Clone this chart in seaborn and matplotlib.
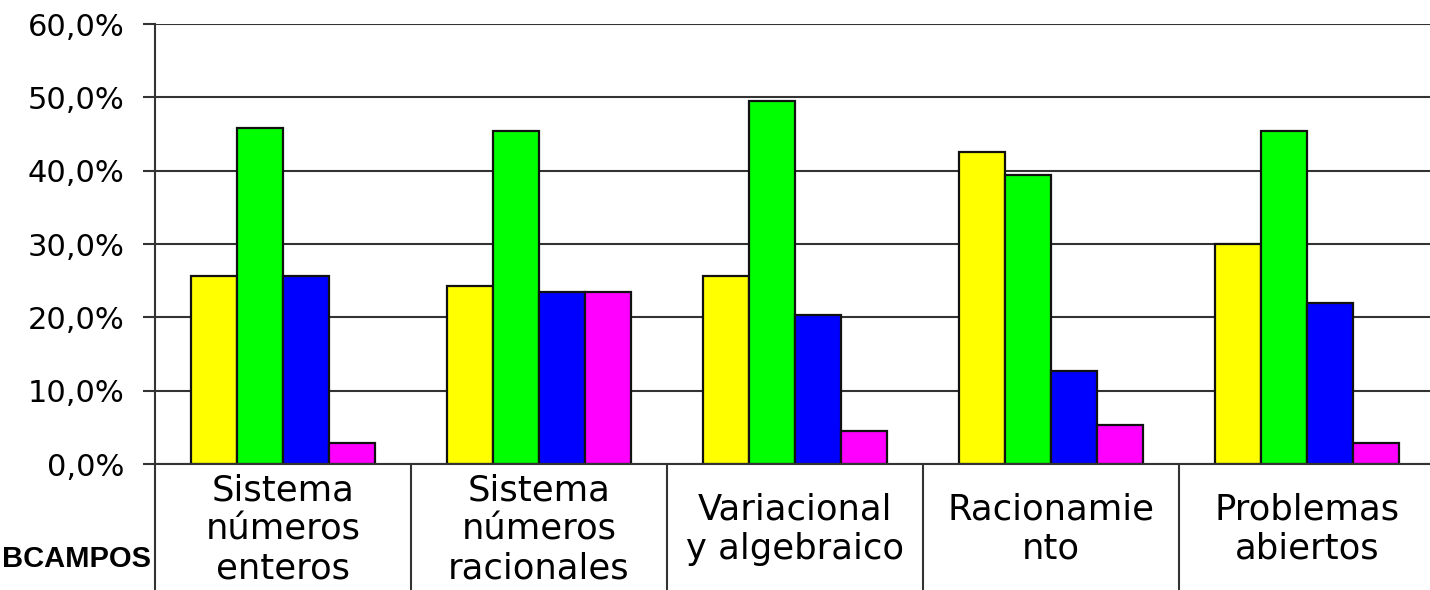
import pandas as pd
import matplotlib
matplotlib.use('Agg')
import matplotlib.pyplot as plt
import seaborn as sns
from matplotlib.ticker import FuncFormatter, FixedLocator

# Chart data
subcampos = ['Sistema\nnúmeros\nenteros', 'Sistema\nnúmeros\nracionales',
             'Variacional\ny algebraico', 'Racionamie\nnto', 'Problemas\nabiertos']
serie_1 = [0.256, 0.243, 0.256, 0.425, 0.300]
serie_2 = [0.458, 0.454, 0.495, 0.394, 0.454]
serie_3 = [0.256, 0.234, 0.203, 0.127, 0.219]
serie_4 = [0.028, 0.234, 0.045, 0.053, 0.028]
series = ['Serie 1', 'Serie 2', 'Serie 3', 'Serie 4']
colores = ['#FFFF00', '#00FF00', '#0000FF', '#FF00FF']

rows = []
for name, vals in zip(series, [serie_1, serie_2, serie_3, serie_4]):
    for cat, v in zip(subcampos, vals):
        rows.append({'Subcampo': cat, 'Serie': name, 'Porcentaje': v})
df = pd.DataFrame(rows)

sns.set_style('white')
plt.rcParams['font.family'] = ['DejaVu Sans']
plt.rcParams['text.color'] = 'black'
plt.rcParams['xtick.color'] = 'black'
plt.rcParams['ytick.color'] = 'black'

W, H = 1430, 590
fig = plt.figure(figsize=(W / 100, H / 100), dpi=100)
# plot area runs a little past the right edge, like the original
ax = fig.add_axes([155 / W, 126 / H, 1280 / W, 440 / H])

sns.barplot(data=df, x='Subcampo', y='Porcentaje', hue='Serie',
            palette=colores, saturation=1, width=0.72, edgecolor='#111111',
            linewidth=1.6, legend=False, ax=ax)

ax.set_xlim(-0.5, 4.5)
ax.set_ylim(0, 0.6)
ax.set_yticks([0, 0.1, 0.2, 0.3, 0.4, 0.5, 0.6])
ax.yaxis.set_major_formatter(FuncFormatter(lambda v, p: f"{v * 100:.1f}%".replace('.', ',')))
ax.yaxis.grid(True, color='#333333', linewidth=1.5)
ax.set_axisbelow(True)
ax.set_xlabel('')
ax.set_ylabel('')

for side in ['top', 'right']:
    ax.spines[side].set_visible(False)
for side in ['left', 'bottom']:
    ax.spines[side].set_color('#333333')
    ax.spines[side].set_linewidth(1.5)

ax.tick_params(axis='y', which='major', direction='out', length=9, width=1.5,
               color='#333333', labelcolor='black', labelsize=22, pad=13, left=True)
# category separators hanging below the axis
ax.xaxis.set_minor_locator(FixedLocator([-0.5, 0.5, 1.5, 2.5, 3.5, 4.5]))
ax.tick_params(axis='x', which='minor', direction='out', length=92, width=1.5,
               color='#333333', bottom=True)
ax.tick_params(axis='x', which='major', length=0, labelsize=25.5, labelcolor='black', pad=47)
for lab in ax.get_xticklabels():
    lab.set_verticalalignment('center')
    lab.set_linespacing(1.18)

fig.text(151 / W, (H - 567) / H, 'BCAMPOS', ha='right', va='baseline', color='black',
         fontsize=21, fontweight='bold', family=['Liberation Sans', 'DejaVu Sans'])

plt.savefig('out.png', dpi=100)
